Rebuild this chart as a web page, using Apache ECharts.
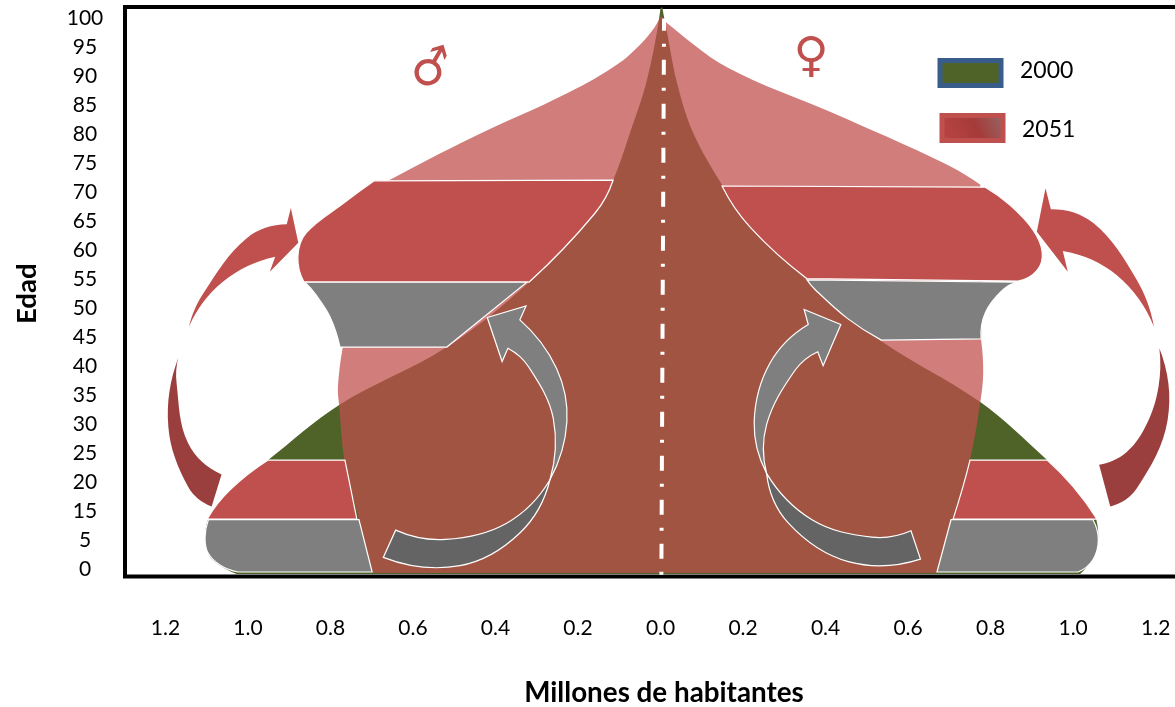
<!DOCTYPE html>
<html>
<head>
<meta charset="utf-8">
<title>Pirámide de población</title>
<script src="https://cdn.jsdelivr.net/npm/echarts@6/dist/echarts.min.js"></script>
<style>
    html, body { margin: 0; padding: 0; background: #fff; }
    #chart { width: 1175px; height: 707px; }
</style>
</head>
<body>
<div id="chart"></div>
<script>
// puntos: [millones de habitantes, posicion en el eje de edad]
// el eje salta de 5 a 15, por eso la posicion no es la edad rotulada
const xTicks = [-1.2, -1, -0.8, -0.6, -0.4, -0.2, 0, 0.2, 0.4, 0.6, 0.8, 1, 1.2];
const edadLabels = ['0', '5', '15', '20', '25', '30', '35', '40', '45', '50', '55', '60', '65', '70', '75', '80', '85', '90', '95', '100'];

// cada figura es una lista de tramos; dentro de un tramo la linea se suaviza
const piramide2000 = [
    [[0, 96.8], [-0.033, 84.4], [-0.074, 75.3], [-0.115, 67.1], [-0.159, 61.4], [-0.319, 49.5], [-0.518, 38.3], [-0.779, 28.3], [-0.951, 18.8], [-1.044, 13.6], [-1.097, 8.6]],
    [[-1.097, 8.6], [-1.104, 5], [-1.092, 2.1], [-1.061, 0.3], [-1.027, -0.86]],
    [[1.017, -0.86], [1.045, 1.6], [1.06, 4.5], [1.056, 8.6]],
    [[1.056, 8.6], [1, 14.2], [0.937, 18.8], [0.775, 28.8], [0.532, 39.5], [0.355, 49.9], [0.217, 59], [0.149, 66.3], [0.079, 75.3], [0.04, 83.9], [0.016, 92.5], [0.004, 97]]
];
const piramide2051 = [
    [[0, 95.3], [-0.033, 91.8], [-0.101, 87.3], [-0.224, 82.2], [-0.459, 74.4], [-0.658, 67.1]],
    [[-0.658, 67.1], [-0.7, 60], [-0.75, 50], [-0.77, 38.3]],
    [[-0.77, 38.3], [-0.782, 31.4], [-0.779, 28.3], [-0.766, 18.8], [-0.731, 8.6], [-0.697, -0.69]],
    [[0.67, -0.69], [0.709, 8.6], [0.75, 18.8], [0.775, 28.8], [0.782, 33.8], [0.777, 39.5]],
    [[0.777, 39.5], [0.78, 50], [0.775, 66.3]],
    [[0.775, 66.3], [0.685, 70.1], [0.418, 78.7], [0.161, 86.6], [0.016, 94.2], [0.004, 95.3]]
];

const bandasRojas = [
    [[[-0.694, 67], [-0.115, 67.1]], [[-0.115, 67.1], [-0.159, 61.4], [-0.319, 49.5]], [[-0.319, 49.5], [-0.864, 49.5]], [[-0.864, 49.5], [-0.879, 53.9], [-0.859, 58], [-0.767, 63.2], [-0.694, 67]]],
    [[[-0.951, 18.8], [-0.765, 18.8]], [[-0.765, 18.8], [-0.736, 8.6]], [[-0.736, 8.6], [-1.099, 8.6]], [[-1.099, 8.6], [-1.044, 13.6], [-0.951, 18.8]]],
    [[[0.149, 66.1], [0.787, 65.9]], [[0.787, 65.9], [0.847, 62.8], [0.903, 58.5], [0.925, 54.7], [0.913, 51.6], [0.867, 49.7]], [[0.867, 49.7], [0.355, 50.1]], [[0.355, 50.1], [0.217, 59], [0.149, 66.1]]],
    [[[0.75, 18.8], [0.937, 18.8]], [[0.937, 18.8], [1, 14.2], [1.058, 8.6]], [[1.058, 8.6], [0.709, 8.6]], [[0.709, 8.6], [0.733, 14.2], [0.75, 18.8]]]
];
const bandasGrises = [
    [[[-0.862, 49.5], [-0.324, 49.5]], [[-0.324, 49.5], [-0.518, 38.3]], [[-0.518, 38.3], [-0.777, 38.3]], [[-0.777, 38.3], [-0.801, 43.5], [-0.835, 47.3], [-0.862, 49.5]]],
    [[[-1.096, 8.5], [-0.731, 8.5]], [[-0.731, 8.5], [-0.699, -0.52]], [[-0.699, -0.52], [-1.024, -0.52]], [[-1.024, -0.52], [-1.068, 0.7], [-1.097, 2.8], [-1.104, 5.4], [-1.096, 8.5]]],
    [[[0.355, 49.9], [0.867, 49.5]], [[0.867, 49.5], [0.83, 48.2], [0.787, 44.2], [0.777, 39.7]], [[0.777, 39.7], [0.535, 39.5]], [[0.535, 39.5], [0.452, 43.3], [0.375, 48.2], [0.355, 49.9]]],
    [[[0.704, 8.5], [1.048, 8.5]], [[1.048, 8.5], [1.061, 5], [1.048, 1.6], [1.012, -0.52]], [[1.012, -0.52], [0.67, -0.52]], [[0.67, -0.52], [0.704, 8.5]]]
];

const flechasGrises = [
    [[[-0.42, 43.4], [-0.326, 45.4]], [[-0.326, 45.4], [-0.341, 43]], [[-0.341, 43], [-0.252, 34.6], [-0.227, 25.4], [-0.268, 15.4]], [[-0.268, 15.4], [-0.26, 26], [-0.32, 34.9], [-0.37, 38.1]], [[-0.37, 38.1], [-0.384, 35.8]], [[-0.384, 35.8], [-0.42, 43.4]]],
    [[[0.437, 42.2], [0.348, 44.8]], [[0.348, 44.8], [0.358, 42.2]], [[0.358, 42.2], [0.265, 35.5], [0.227, 25.4], [0.257, 16.5]], [[0.257, 16.5], [0.257, 24.9], [0.326, 34.3], [0.381, 37.5]], [[0.381, 37.5], [0.394, 35.1]], [[0.394, 35.1], [0.437, 42.2]]]
];
const flechasOscuras = [
    [[[-0.642, 6.7], [-0.522, 5.1], [-0.373, 7.9], [-0.268, 15.4]], [[-0.268, 15.4], [-0.341, 6.2], [-0.486, 0.57], [-0.672, 2]], [[-0.672, 2], [-0.642, 6.7]]],
    [[[0.257, 16.5], [0.367, 8.5], [0.512, 5.5], [0.607, 6.6]], [[0.607, 6.6], [0.63, 1.7]], [[0.63, 1.7], [0.455, 1.26], [0.31, 7.9], [0.257, 16.5]]]
];
const flechasRojas = [
    [[[-0.878, 56.3], [-0.896, 62.3]], [[-0.896, 62.3], [-0.906, 59.5]], [[-0.906, 59.5], [-1.003, 57.1], [-1.108, 47.6], [-1.143, 41.8]], [[-1.143, 41.8], [-1.06, 49.6], [-0.934, 53.9]], [[-0.934, 53.9], [-0.947, 51.3]], [[-0.947, 51.3], [-0.878, 56.3]]],
    [[[0.912, 58.2], [0.933, 65.7]], [[0.933, 65.7], [0.946, 62.1]], [[0.946, 62.1], [1.049, 59.7], [1.154, 49.9], [1.196, 41.8]], [[1.196, 41.8], [1.106, 50.7], [0.975, 54.9]], [[0.975, 54.9], [0.987, 51.3]], [[0.987, 51.3], [0.912, 58.2]]]
];
const flechasVino = [
    [[[-1.169, 36.4], [-1.193, 24.6], [-1.145, 14.2], [-1.088, 10.8]], [[-1.088, 10.8], [-1.064, 16.3]], [[-1.064, 16.3], [-1.145, 21.7], [-1.173, 32.1], [-1.169, 36.4]]],
    [[[1.209, 38.1], [1.229, 25.7], [1.154, 13.9], [1.09, 10.8]], [[1.09, 10.8], [1.063, 18]], [[1.063, 18], [1.13, 20.2], [1.179, 25.1], [1.207, 31.5], [1.209, 38.1]]]
];
const ejeCentral = [[0.002, -1], [0.0085, 95]];

function unit(a, b) {
    const dx = b[0] - a[0];
    const dy = b[1] - a[1];
    const len = Math.hypot(dx, dy) || 1;
    return [dx / len, dy / len];
}

// curva por los puntos leidos; el largo de cada tirador sale de la cuerda del tramo
function toPathData(sections, api) {
    let d = '';
    sections.forEach((sec) => {
        const pts = sec.map((p) => api.coord(p));
        const n = pts.length;
        d += (d ? 'L' : 'M') + pts[0][0] + ' ' + pts[0][1];
        if (n === 2) {
            d += 'L' + pts[1][0] + ' ' + pts[1][1];
            return;
        }
        const tan = pts.map((p, i) => (i > 0 && i < n - 1 ? unit(pts[i - 1], pts[i + 1]) : null));
        const a = unit(pts[0], pts[1]);
        const b = unit(pts[n - 2], pts[n - 1]);
        tan[0] = unit([0, 0], [2 * a[0] - tan[1][0], 2 * a[1] - tan[1][1]]);
        tan[n - 1] = unit([0, 0], [2 * b[0] - tan[n - 2][0], 2 * b[1] - tan[n - 2][1]]);
        for (let i = 0; i < n - 1; i++) {
            const h = Math.hypot(pts[i + 1][0] - pts[i][0], pts[i + 1][1] - pts[i][1]) * 0.35;
            d += 'C' + (pts[i][0] + tan[i][0] * h) + ' ' + (pts[i][1] + tan[i][1] * h)
                + ' ' + (pts[i + 1][0] - tan[i + 1][0] * h) + ' ' + (pts[i + 1][1] - tan[i + 1][1] * h)
                + ' ' + pts[i + 1][0] + ' ' + pts[i + 1][1];
        }
    });
    return d + 'Z';
}

function shapeSeries(name, shapes, style) {
    return {
        type: 'custom',
        name: name,
        silent: true,
        clip: false,
        coordinateSystem: 'cartesian2d',
        data: shapes.map((s, i) => [i]),
        renderItem: (params, api) => ({
            type: 'path',
            shape: { pathData: toPathData(shapes[params.dataIndex], api) },
            style: style
        })
    };
}

const RED = '#C0504D';
const chart = echarts.init(document.getElementById('chart'), null, { renderer: 'canvas' });
const FONT = 'Lato, "Open Sans", sans-serif';

function legendBox(name, left, top, itemStyle, padding) {
    return {
        orient: 'vertical',
        left: left,
        top: top,
        padding: 0,
        itemWidth: 61,
        itemHeight: 25,
        selectedMode: false,
        formatter: '{t|{name}}',
        textStyle: {
            color: '#000',
            fontFamily: FONT,
            rich: { t: { fontSize: 23, color: '#000', fontFamily: FONT, padding: padding } }
        },
        data: [{ name: name, icon: 'rect', itemStyle: itemStyle }]
    };
}

chart.setOption({
    animation: false,
    backgroundColor: '#fff',
    textStyle: { fontFamily: FONT },
    grid: {
        show: true,
        outerBoundsMode: 'none',
        left: 125,
        right: -5,
        top: 7,
        bottom: 130.5,
        borderColor: '#000',
        borderWidth: 4,
        backgroundColor: 'transparent'
    },
    xAxis: {
        type: 'value',
        min: -1.298,
        max: 1.259,
        splitLine: { show: false },
        axisLine: { show: false },
        axisTick: { show: false },
        axisLabel: {
            customValues: xTicks,
            margin: 41,
            fontSize: 21,
            color: '#000',
            fontFamily: FONT,
            formatter: (v) => Math.abs(v).toFixed(1)
        },
        name: 'Millones de habitantes',
        nameLocation: 'middle',
        nameGap: 103,
        nameTextStyle: { fontSize: 27.8, fontWeight: 'bold', color: '#000', fontFamily: FONT, padding: [0, 0, 0, 23] }
    },
    yAxis: {
        type: 'value',
        min: -1.3,
        max: 97,
        splitLine: { show: false },
        axisLine: { show: false },
        axisTick: { show: false },
        axisLabel: {
            customValues: edadLabels.map((l, i) => i * 5),
            margin: 40,
            align: 'center',
            fontSize: 21,
            color: '#000',
            fontFamily: FONT,
            formatter: (v) => edadLabels[Math.round(v / 5)]
        },
        name: 'Edad',
        nameLocation: 'middle',
        nameGap: 84,
        nameTextStyle: { fontSize: 27.5, fontWeight: 'bold', color: '#000', fontFamily: FONT, padding: [0, 4, 0, 0] }
    },
    legend: [
        legendBox('2000', 937.5, 58, { color: '#4F6228', borderColor: '#385D8A', borderWidth: 5, opacity: 1 }, [0, 0, 4, 14]),
        legendBox('2051', 939.5, 113, {
            color: { type: 'linear', x: 0, y: 1, x2: 1, y2: 0, colorStops: [
                { offset: 0, color: '#BC4644' }, { offset: 0.55, color: '#A53B39' }, { offset: 1, color: '#936B6B' }
            ] },
            borderColor: '#C0504D',
            borderWidth: 5,
            opacity: 1
        }, [4, 0, 0, 14])
    ],
    graphic: [
        { type: 'text', x: 432, y: 71, rotation: 0.28, style: { text: '\u2642', font: '48px "DejaVu Sans"', fill: RED, textAlign: 'center', textVerticalAlign: 'middle' } },
        { type: 'text', x: 811, y: 59, style: { text: '\u2640', font: '48px "DejaVu Sans"', fill: RED, textAlign: 'center', textVerticalAlign: 'middle' } }
    ],
    series: [
        shapeSeries('2000', [piramide2000], { fill: '#4F6228' }),
        shapeSeries('2051', [piramide2051], { fill: RED, opacity: 0.74 }),
        shapeSeries('bandas rojas', bandasRojas, { fill: RED, stroke: '#fff', lineWidth: 1.2 }),
        shapeSeries('bandas grises', bandasGrises, { fill: '#7F7F7F', stroke: '#fff', lineWidth: 1.2 }),
        shapeSeries('flechas oscuras', flechasOscuras, { fill: '#646464', stroke: '#fff', lineWidth: 1.2 }),
        shapeSeries('flechas grises', flechasGrises, { fill: '#7F7F7F', stroke: '#fff', lineWidth: 1.2 }),
        shapeSeries('flechas rojas', flechasRojas, { fill: RED }),
        shapeSeries('flechas vino', flechasVino, { fill: '#9A3E3E' }),
        {
            type: 'line',
            name: 'eje central',
            silent: true,
            symbol: 'none',
            data: ejeCentral,
            lineStyle: { color: '#fff', width: 4, type: [15, 13, 3, 13], dashOffset: 28 }
        }
    ]
});
</script>
</body>
</html>
